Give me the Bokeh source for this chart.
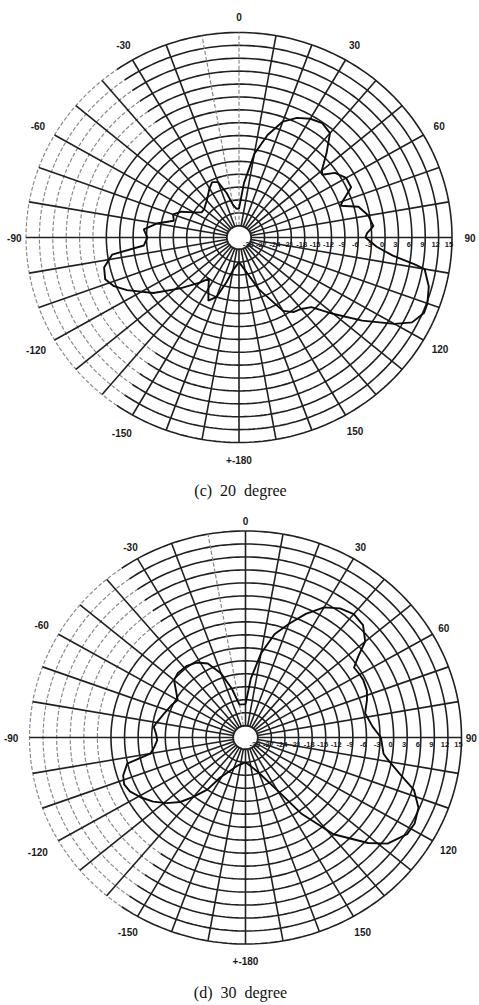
import numpy as np
from bokeh.plotting import figure
from bokeh.layouts import column
from bokeh.models import Label, Range1d
from bokeh.core.properties import value
from bokeh.embed import file_html
from bokeh.resources import INLINE

# ---------------- data ----------------
ring_db = [-30, -27, -24, -21, -18, -15, -12, -9, -6, -3, 0, 3, 6, 9, 12, 15]
ring_labels = ["-30", "-27", "-24", "-21", "-18", "-15", "-12", "-9", "-6", "-3",
               "0", "3", "6", "9", "12", "15"]
spoke_deg = list(range(-180, 180, 10))
angle_ticks = [0, 30, 60, 90, 120, 150, 180, -150, -120, -90, -60, -30]
angle_tick_labels = ["0", "30", "60", "90", "120", "150", "+-180",
                     "-150", "-120", "-90", "-60", "-30"]

# (c) 20 degree : pattern (angle in degrees, clockwise from top; level in dB)
c_angle = [-180, -170, -165, -160, -155, -150, -145, -140, -132, -124, -116, -112,
           -108, -103, -98, -95, -90, -85, -80, -75, -70, -65, -60, -55, -50, -40,
           -30, -25, -20, -15, -10, -5, 0, 5, 10, 15, 20, 25, 30, 35, 40, 45, 50,
           52, 55, 60, 65, 70, 72, 75, 80, 85, 88, 90, 94, 97, 99, 100, 105, 110,
           113, 117, 120, 125, 130, 135, 140, 145, 150, 160, 170, 180]
c_db = [-27, -25, -22, -18, -16.5, -19, -21, -19, -15, -9.6, -4.8, -2.5,
        -1.2, -1.7, -4, -11.3, -12.2, -11.3, -14, -17.6, -17, -18.5, -21, -22.5, -22.5, -21.5,
        -19.5, -18.5, -19, -22, -25, -26, -26, -20, -13, -8, -4, -2, -0.8, -0.2, -1, -5, -8.5,
        -9, -6.5, -5, -5, -8, -8.8, -5, -3.3, -2.5, -4, -4.4, -1.8, 2, 7, 9.5, 11.3, 12.2,
        12.3, 10.8, 7.5, 1, -5, -9.8, -11, -11.5, -13, -20, -25, -27]

# (d) 30 degree
d_angle = [-180, -165, -155, -149, -145, -140, -136, -131, -126, -121, -116, -112,
           -108, -103, -100, -96, -92, -88, -83, -80, -73, -65, -60, -55, -50, -45,
           -38, -32, -26, -20, -15, -10, 0, 5, 10, 15, 20, 25, 30, 35, 40, 45, 50,
           53, 56, 60, 63, 68, 72, 78, 85, 90, 97, 99, 104, 108, 113, 118, 122, 128,
           132, 139, 145, 150, 160, 170, 180]
d_db = [-27, -26, -24, -22, -18, -14.8, -12, -9.6, -7.5, -5.8, -4.3, -3.8,
        -4.3, -5.9, -11.4, -12.5, -13.2, -13, -12.3, -12.8, -13.9, -14.8, -15.4, -14, -12.1, -11.6,
        -11.7, -12.3, -13.7, -17, -21, -25, -25, -19, -13, -8, -4.8, -1.2, 2, 3.7, 4.5, 4, 1.8,
        -1.5, -3.8, -3.6, -3.5, -3.8, -4.5, -5.7, -4.5, -2.8, -2, -1, 2.5, 6.4, 8.8, 9.6, 9.4, 7.1,
        3.7, -3.1, -11.3, -18.6, -24, -26, -27]

DB_MIN, DB_MAX = ring_db[0], ring_db[-1]
RHO0 = 0.057
GRID = "#202020"
FADE = "#8a8a8a"


def rho(db):
    return RHO0 + (np.asarray(db, dtype=float) - DB_MIN) / (DB_MAX - DB_MIN) * (1 - RHO0)


def polar_xy(theta_deg, r):
    t = np.radians(np.asarray(theta_deg, dtype=float))
    return r * np.sin(t), r * np.cos(t)


def panel(angles, dbs, caption, H, cx, cy, rx, ry, cap_y, faded_spokes, lab_r):
    W = 479
    p = figure(width=W, height=H, output_backend="svg", toolbar_location=None,
               x_range=Range1d(-cx / rx, (W - cx) / rx),
               y_range=Range1d(-(H - cy) / ry, cy / ry),
               x_axis_type=None, y_axis_type=None, min_border=0)
    p.grid.visible = False
    p.outline_line_color = None
    p.background_fill_color = "white"

    # rings
    sx, sy, fx, fy = [], [], [], []
    for db in ring_db[1:]:
        r = rho(db)
        if db >= 0:
            t1 = np.linspace(-35, 215, 200)
            x, y = polar_xy(t1, r)
            sx.append(x); sy.append(y)
            t2 = np.linspace(-145, -35, 90)
            x, y = polar_xy(t2, r)
            fx.append(x); fy.append(y)
        else:
            t = np.linspace(0, 360, 240)
            x, y = polar_xy(t, r)
            sx.append(x); sy.append(y)
    p.multi_line(sx, sy, line_color=GRID, line_width=1.6)
    p.multi_line(fx, fy, line_color=FADE, line_width=1.2, line_dash="4 2")

    # spokes
    ox, oy, gx, gy = [], [], [], []
    for a in spoke_deg:
        x, y = polar_xy([a, a], np.array([RHO0, 1.0]))
        if a in faded_spokes:
            gx.append(x); gy.append(y)
        else:
            ox.append(x); oy.append(y)
    p.multi_line(ox, oy, line_color=GRID, line_width=1.6)
    p.multi_line(gx, gy, line_color=FADE, line_width=1.2, line_dash="4 2")

    # inner circle
    t = np.linspace(0, 360, 60)
    x, y = polar_xy(t, RHO0)
    p.patch(x, y, fill_color="white", line_color=GRID, line_width=1.8)

    # pattern
    x, y = polar_xy(angles, rho(dbs))
    p.line(x, y, line_color="#0c0c0c", line_width=1.9)

    # radial scale labels
    p.text(rho(ring_db), np.zeros(len(ring_db)), text=ring_labels,
           text_font=value("Liberation Sans"), text_font_size="7.5px", text_font_style="bold",
           text_color="#1a1a1a", text_align="center", text_baseline="middle",
           x_offset=-3, y_offset=7)

    # angle labels
    x, y = polar_xy(angle_ticks, np.array(lab_r))
    p.text(x, y, text=angle_tick_labels, text_font=value("Liberation Sans"),
           text_font_size="10px", text_font_style="bold", text_color="#1a1a1a",
           text_align="center", text_baseline="middle")

    p.add_layout(Label(x=240, y=H - cap_y, x_units="screen", y_units="screen",
                       text=caption, text_font="Liberation Serif", text_font_size="16px",
                       text_color="#111111", text_align="center", text_baseline="middle"))
    return p


lab_c = [1.075, 1.085, 1.085, 1.085, 1.09, 1.09, 1.085, 1.1, 1.1, 1.055, 1.09, 1.085]
lab_d = [1.05, 1.065, 1.06, 1.045, 1.085, 1.085, 1.08, 1.09, 1.11, 1.085, 1.09, 1.065]

p1 = panel(c_angle, c_db, "(c)\u00a0\u00a020\u00a0\u00a0degree", 500, 238.5, 237, 213, 205, 490,
           [0, -10], lab_c)
p2 = panel(d_angle, d_db, "(d)\u00a0\u00a030\u00a0\u00a0degree", 505, 245, 237, 216, 206.5, 492,
           [-10], lab_d)

layout = column(p1, p2, spacing=0)
open("out.html", "w").write(file_html(layout, INLINE))
